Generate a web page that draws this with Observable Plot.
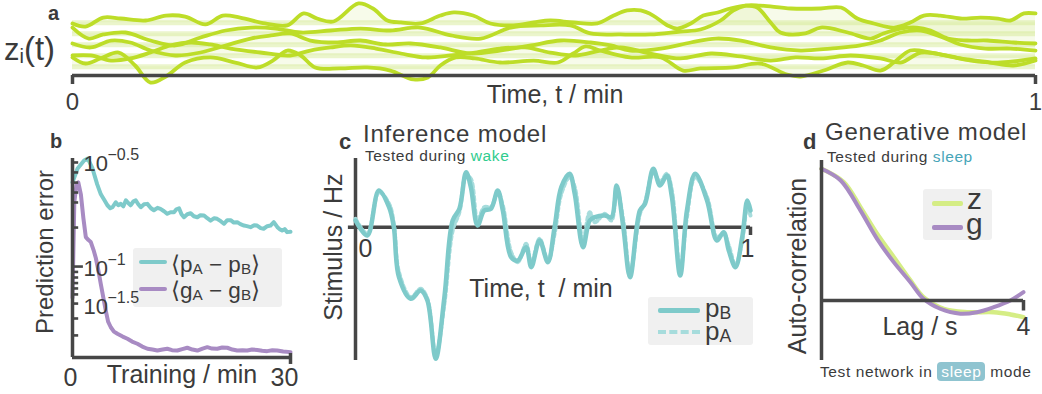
<!DOCTYPE html>
<html><head><meta charset="utf-8">
<script src="https://cdn.jsdelivr.net/npm/d3@7"></script>
<script src="https://cdn.jsdelivr.net/npm/@observablehq/plot@0.6"></script>
<style>
body{margin:0;background:#fff;}
#wrap{position:relative;width:1042px;height:394px;overflow:hidden;font-family:"Liberation Sans",Arial,sans-serif;color:#3b3b3b;}
.abs{position:absolute;white-space:pre;line-height:1;}
sub.s{font-size:0.68em;vertical-align:baseline;position:relative;top:0.12em;}
</style></head><body><div id="wrap"></div>
<script>
// ---------- Panel a : latent trajectories z_i(t) ----------
const aBands = [4.8, 3.8, 2.8, 1.8, 0.8];
const z1 = [[0,4.73],[0.0135,4.45],[0.032,5.27],[0.050,5.18],[0.076,5.0],[0.097,5.45],[0.117,5.36],[0.138,4.64],[0.156,5.45],[0.174,5.27],[0.200,4.73],[0.223,4.55],[0.240,5.64],[0.254,5.18],[0.271,4.91],[0.297,6.55],[0.312,6.09],[0.327,5.0],[0.341,4.82],[0.361,4.73],[0.382,5.45],[0.396,5.73],[0.416,5.45],[0.434,4.73],[0.458,4.55],[0.479,4.82],[0.496,5.0],[0.520,4.82],[0.545,4.73],[0.562,5.45],[0.576,5.91],[0.590,5.91],[0.603,5.45],[0.618,4.55],[0.628,4.27],[0.642,4.73],[0.655,5.45],[0.670,5.73],[0.683,6.09],[0.699,6.36],[0.711,6.18],[0.725,4.82],[0.735,3.91],[0.761,3.82],[0.777,4.36],[0.805,3.91],[0.829,3.36],[0.842,3.82],[0.860,4.27],[0.877,4.36],[0.891,4.09],[0.909,3.36],[0.929,3.18],[0.950,3.18],[0.977,3.0],[1,2.91]];
const z2 = [[0,4.36],[0.017,3.36],[0.032,3.73],[0.055,3.91],[0.081,3.18],[0.107,2.73],[0.133,3.45],[0.159,4.09],[0.185,4.36],[0.211,4.27],[0.237,3.91],[0.268,4.09],[0.299,4.27],[0.330,4.09],[0.361,4.36],[0.393,3.64],[0.424,3.36],[0.455,4.36],[0.486,4.55],[0.517,4.55],[0.538,3.82],[0.569,3.73],[0.600,3.73],[0.631,4.0],[0.652,4.18],[0.673,5.0],[0.686,5.91],[0.699,6.36],[0.714,6.36],[0.746,6.09],[0.777,6.09],[0.798,6.18],[0.815,5.18],[0.832,4.73],[0.853,4.36],[0.870,4.82],[0.884,5.45],[0.901,5.45],[0.922,5.18],[0.943,5.27],[0.961,5.18],[0.974,5.0],[0.988,5.64],[1,5.64]];
const z3 = [[0,2.91],[0.019,2.55],[0.040,3.18],[0.060,3.0],[0.081,2.27],[0.107,1.82],[0.133,2.09],[0.159,2.73],[0.185,3.36],[0.206,3.64],[0.226,3.82],[0.247,3.18],[0.273,3.0],[0.299,3.18],[0.325,2.82],[0.351,2.91],[0.382,2.55],[0.413,2.0],[0.444,2.27],[0.476,2.73],[0.507,3.18],[0.538,3.0],[0.559,2.73],[0.579,2.27],[0.611,2.45],[0.642,3.0],[0.668,3.36],[0.694,3.18],[0.725,2.55],[0.756,2.27],[0.787,2.45],[0.818,2.73],[0.839,3.18],[0.860,3.91],[0.881,4.09],[0.901,3.55],[0.922,2.82],[0.948,2.45],[0.974,2.45],[1,2.27]];
const z4 = [[0,1.82],[0.019,1.82],[0.040,1.36],[0.060,1.55],[0.081,2.09],[0.102,2.73],[0.123,3.0],[0.143,2.82],[0.164,2.45],[0.195,2.09],[0.226,1.82],[0.247,2.27],[0.268,2.55],[0.289,2.73],[0.315,2.45],[0.341,2.0],[0.367,1.64],[0.393,1.82],[0.418,2.09],[0.444,2.45],[0.470,2.55],[0.496,2.09],[0.522,1.82],[0.548,2.27],[0.569,2.55],[0.600,2.0],[0.631,1.55],[0.663,2.0],[0.694,1.73],[0.725,1.36],[0.751,1.64],[0.777,1.55],[0.808,1.82],[0.839,1.55],[0.860,1.18],[0.881,2.09],[0.907,1.82],[0.933,1.36],[0.964,1.18],[1,1.55]];
const z5 = [[0,1.64],[0.0135,1.09],[0.029,1.55],[0.048,2.09],[0.065,0.91],[0.081,-0.64],[0.097,-0.09],[0.117,1.18],[0.143,1.64],[0.169,1.18],[0.192,0.73],[0.208,1.36],[0.223,2.27],[0.237,1.82],[0.252,0.73],[0.278,0.64],[0.306,0.73],[0.330,0.45],[0.354,-0.36],[0.369,-0.18],[0.382,0.91],[0.398,1.64],[0.418,1.55],[0.444,1.18],[0.479,1.36],[0.504,1.18],[0.520,2.0],[0.533,2.64],[0.548,2.27],[0.579,1.64],[0.611,1.64],[0.634,0.45],[0.652,0.64],[0.686,0.73],[0.714,1.09],[0.742,0.09],[0.756,-0.09],[0.780,0.45],[0.805,1.18],[0.821,0.91],[0.839,0.45],[0.853,1.18],[0.870,2.27],[0.891,2.09],[0.922,1.55],[0.953,1.18],[0.977,0.91],[1,1.36]];
const aLines = [z1, z2, z3, z4, z5];
const aTicks = [0, 1];

// ---------- Panel b : prediction error during training ----------
const bTeal = [[0,0.88],[0.7,0.95],[1.6,0.99],[2.1,1.0],[2.75,0.95],[3.4,0.87],[3.9,0.82],[4.4,0.79],[4.8,0.765],[5.2,0.75],[5.5,0.755],[5.95,0.78],[6.3,0.765],[6.65,0.772],[7.0,0.76],[7.35,0.79],[7.7,0.775],[8.0,0.765],[8.4,0.785],[8.7,0.79],[9.05,0.77],[9.4,0.755],[9.85,0.77],[10.3,0.772],[10.8,0.75],[11.2,0.74],[11.7,0.752],[12.1,0.747],[12.6,0.735],[13.05,0.722],[13.5,0.73],[13.97,0.73],[14.3,0.745],[14.66,0.75],[15.0,0.72],[15.34,0.705],[15.8,0.72],[16.26,0.725],[16.7,0.71],[17.18,0.705],[17.6,0.715],[18.1,0.714],[18.55,0.7],[19.0,0.688],[19.5,0.7],[19.9,0.697],[20.4,0.685],[20.84,0.672],[21.3,0.69],[21.76,0.69],[22.2,0.678],[22.67,0.68],[23.1,0.67],[23.6,0.663],[24.0,0.66],[24.5,0.655],[25.0,0.665],[25.4,0.663],[25.9,0.65],[26.3,0.647],[26.8,0.66],[27.25,0.663],[27.7,0.68],[28.2,0.655],[28.5,0.645],[28.85,0.638],[29.2,0.645],[29.54,0.63],[30,0.632]];
const bPurple = [[0,0.3],[0.25,0.78],[0.55,0.87],[0.8,0.88],[1.15,0.82],[1.5,0.7],[1.83,0.605],[2.2,0.59],[2.52,0.58],[2.9,0.54],[3.21,0.5],[3.6,0.43],[3.89,0.37],[4.25,0.3],[4.58,0.236],[4.9,0.18],[5.27,0.152],[5.7,0.13],[6.18,0.119],[6.9,0.105],[7.56,0.094],[8.2,0.08],[8.93,0.069],[9.6,0.055],[10.31,0.044],[11.0,0.04],[11.68,0.035],[12.4,0.04],[13.05,0.044],[13.7,0.037],[14.43,0.035],[15.1,0.042],[15.8,0.049],[16.5,0.04],[17.18,0.035],[17.9,0.045],[18.55,0.052],[19.2,0.045],[19.92,0.044],[20.6,0.05],[21.3,0.049],[22.0,0.04],[22.67,0.035],[23.4,0.036],[24.05,0.035],[24.7,0.04],[25.42,0.038],[26.1,0.034],[26.79,0.032],[27.5,0.036],[28.17,0.035],[29.0,0.03],[30,0.027]];
const bMinorTicks = [0.98, 0.93, 0.879, 0.829, 0.779, 0.653, 0.43, 0.402, 0.374, 0.347, 0.317, 0.271, 0.196, 0.111];
const bMajorTicks = [0.457];
const bLabelPos = [0.972, 0.447, 0.256];
const bLabelExp = ["\u22120.5", "\u22121", "\u22121.5"];
const bXTicks = [0, 30];

// ---------- Panel c : inference model ----------
const cT = [0,0.030,0.059,0.085,0.097,0.110,0.140,0.165,0.182,0.203,0.225,0.246,0.263,0.280,0.292,0.309,0.326,0.343,0.360,0.373,0.394,0.411,0.432,0.445,0.466,0.487,0.504,0.521,0.542,0.555,0.576,0.593,0.606,0.631,0.648,0.661,0.678,0.695,0.720,0.733,0.754,0.771,0.788,0.801,0.822,0.839,0.860,0.890,0.915,0.932,0.945,0.962,0.979,0.992,1.0];
const pB = [0.20,-0.25,1.10,0.60,0.0,-1.50,-2.15,-1.90,-2.20,-3.95,-2.10,0.20,0.55,1.65,1.20,0.05,0.50,0.55,1.10,0.50,-0.90,-1.00,-0.60,-1.20,-0.40,-1.05,0.0,1.20,1.60,1.00,-0.60,0.20,0.30,0.35,0.30,1.25,0.0,-1.50,0.50,0.70,1.75,1.25,1.55,0.90,-1.45,0.50,1.60,0.80,-0.40,-0.15,-0.70,-1.20,-0.30,0.80,0.50];
const pA = [0.25,-0.20,1.05,0.70,0.10,-1.35,-2.10,-1.85,-2.15,-3.85,-2.30,-0.10,0.45,1.55,1.45,0.20,0.60,0.60,1.05,0.65,-0.75,-1.05,-0.50,-1.10,-0.35,-1.00,-0.20,1.00,1.50,1.20,-0.40,0.45,0.15,0.40,0.20,1.15,0.20,-1.40,0.40,0.75,1.65,1.35,1.60,1.10,-1.30,0.30,1.50,0.90,-0.30,-0.20,-0.55,-1.15,-0.40,0.60,0.35];
const cTicks = [0, 1];

// ---------- Panel d : generative model auto-correlation ----------
const dLagZ = [0,0.44,0.77,1.10,1.43,1.76,2.02,2.42,2.88,3.41,3.74,4.0];
const dZ = [1.0,0.899,0.709,0.506,0.329,0.152,0.025,-0.063,-0.089,-0.089,-0.106,-0.127];
const dLagG = [0,0.38,0.77,1.10,1.43,1.76,2.02,2.35,2.75,3.08,3.41,3.74,4.0];
const dG = [1.0,0.911,0.684,0.468,0.291,0.139,0.013,-0.063,-0.101,-0.089,-0.051,0.0,0.063];
const dTicks = [4];

// ---------- styling ----------
const AX = "#464646", TXT = "#3b3b3b";
const GREEN = "#bddd28", BAND = "#ebf5cc", TEAL = "#7ecaca", TEAL2 = "#a6dcdc", PURPLE = "#a88bc3", ZCOL = "#d5ed85";
const FONT = "Liberation Sans, Arial, sans-serif";
const baseStyle = {fontFamily: FONT, background: "transparent", overflow: "visible", color: TXT};
const W = document.getElementById("wrap");
function place(el, left, top) { el.style.position = "absolute"; el.style.left = left + "px"; el.style.top = top + "px"; el.style.maxWidth = "none"; W.appendChild(el); }
function label(html, css) { const d = document.createElement("div"); d.className = "abs"; d.innerHTML = html; Object.assign(d.style, css); W.appendChild(d); return d; }

// legend backgrounds go underneath the charts
label("", {left: "133px", top: "248px", width: "149px", height: "59px", background: "#f0f0f0", borderRadius: "3px"});
label("", {left: "648px", top: "297px", width: "105px", height: "48px", background: "#f0f0f0", borderRadius: "3px"});
label("", {left: "923px", top: "189px", width: "69px", height: "51px", background: "#f0f0f0", borderRadius: "3px"});

// Panel a
const aPlot = Plot.plot({
  width: 1042, height: 110, marginLeft: 72, marginRight: 7, marginTop: 0, marginBottom: 35,
  style: baseStyle,
  x: {domain: [0, 1]}, y: {domain: [0, 75 / 11], axis: null},
  marks: [
    Plot.ruleY(aBands, {stroke: BAND, strokeWidth: 5}),
    ...aLines.map((L, i) => Plot.areaY(L, {x: d => d[0], y1: aBands[i], y2: d => d[1], fill: "#d3ea8c", fillOpacity: 0.18, curve: "catmull-rom"})),
    ...aLines.map(L => Plot.line(L, {x: d => d[0], y: d => d[1], stroke: GREEN, strokeWidth: 3.8, curve: "catmull-rom"})),
    Plot.ruleY([0], {stroke: AX, strokeWidth: 3.5}),
    Plot.axisX({ticks: aTicks, tickSize: 9, tickPadding: 8, stroke: AX, strokeWidth: 3.5, fontSize: 24, tickFormat: d => String(d), label: null})
  ]
});
place(aPlot, 0, 0);

// Panel b
const bPlot = Plot.plot({
  width: 300, height: 284, marginLeft: 72, marginRight: 10, marginTop: 48, marginBottom: 37,
  style: baseStyle,
  x: {domain: [0, 30], axis: null}, y: {domain: [0, 1], axis: null},
  marks: [
    Plot.line(bTeal, {x: d => d[0], y: d => d[1], stroke: TEAL, strokeWidth: 4}),
    Plot.line(bPurple, {x: d => d[0], y: d => d[1], stroke: PURPLE, strokeWidth: 4}),
    Plot.ruleX([0], {stroke: AX, strokeWidth: 3.5}),
    Plot.ruleY([0], {stroke: AX, strokeWidth: 3.5}),
    Plot.ruleY(bMinorTicks, {x1: 0, x2: 0.85, stroke: AX, strokeWidth: 2.6}),
    Plot.ruleY(bMajorTicks, {x1: 0, x2: 1.5, stroke: AX, strokeWidth: 2.6}),
    Plot.ruleX([30], {y1: 0.02, y2: -0.035, stroke: AX, strokeWidth: 3.5}),
    Plot.text(bLabelPos, {x: 0, y: d => d, text: () => "10", textAnchor: "start", dx: 11, fontSize: 22, fill: TXT}),
    Plot.text(bLabelPos.map((v, i) => ({v, e: bLabelExp[i]})), {x: 0, y: "v", text: "e", textAnchor: "start", dx: 35, dy: -9, fontSize: 16, fill: TXT}),
    Plot.text([bXTicks[0]], {x: d => d, y: 0, text: d => String(d), dx: -2, dy: 11, lineAnchor: "top", fontSize: 25, fill: TXT}),
    Plot.text([bXTicks[1]], {x: d => d, y: 0, text: d => String(d), dx: -6, dy: 11, lineAnchor: "top", fontSize: 25, fill: TXT})
  ]
});
place(bPlot, 0, 110);

// Panel c
const cPlot = Plot.plot({
  width: 460, height: 284, marginLeft: 45, marginRight: 20, marginTop: 48, marginBottom: 34,
  style: baseStyle,
  x: {domain: [0, 1], axis: null}, y: {domain: [-4.0, 2.06], axis: null},
  marks: [
    Plot.ruleX([0], {stroke: AX, strokeWidth: 3.5}),
    Plot.ruleY([0], {x1: -0.018, x2: 1, stroke: AX, strokeWidth: 3.5}),
    Plot.ruleX([1], {y1: 0, y2: -0.25, stroke: AX, strokeWidth: 3.5}),
    Plot.line(cT, {x: d => d, y: (d, i) => pA[i], stroke: TEAL2, strokeWidth: 4, strokeDasharray: "3.5,3", curve: "catmull-rom"}),
    Plot.line(cT, {x: d => d, y: (d, i) => pB[i], stroke: TEAL, strokeWidth: 4.5, curve: "catmull-rom"}),
    Plot.text([cTicks[0]], {x: d => d, y: 0, text: d => String(d), dx: 10, dy: 12, lineAnchor: "top", fontSize: 25, fill: TXT}),
    Plot.text([cTicks[1]], {x: d => d, y: 0, text: d => String(d), dx: -3, dy: 12, lineAnchor: "top", fontSize: 25, fill: TXT})
  ]
});
place(cPlot, 310, 110);

// Panel d
const dPlot = Plot.plot({
  width: 282, height: 284, marginLeft: 61, marginRight: 19, marginTop: 50, marginBottom: 34,
  style: baseStyle,
  x: {domain: [0, 4], axis: null}, y: {domain: [-0.456, 1.063], axis: null},
  marks: [
    Plot.line(dLagZ, {x: d => d, y: (d, i) => dZ[i], stroke: ZCOL, strokeWidth: 4.5, curve: "catmull-rom"}),
    Plot.line(dLagG, {x: d => d, y: (d, i) => dG[i], stroke: PURPLE, strokeWidth: 4, curve: "catmull-rom"}),
    Plot.ruleX([0], {stroke: AX, strokeWidth: 3.5}),
    Plot.ruleY([0], {stroke: AX, strokeWidth: 3.5}),
    Plot.ruleX(dTicks, {y1: 0, y2: -0.08, stroke: AX, strokeWidth: 3.5}),
    Plot.text(dTicks, {x: d => d, y: 0, text: d => String(d), dy: 17, lineAnchor: "top", fontSize: 25, fill: TXT})
  ]
});
place(dPlot, 760, 110);

// ---------- HTML texts ----------
// panel a
label("a", {left: "48px", top: "3px", fontSize: "20px", fontWeight: "bold"});
label('<span style="font-size:31px">z</span><span style="font-size:20px;position:relative;top:3px">i</span><span style="font-size:33px">(t)</span>', {left: "4px", top: "32px"});
label("Time, t / min", {left: "555px", top: "82px", fontSize: "25px", transform: "translateX(-50%)"});
// panel b
label("b", {left: "50px", top: "131px", fontSize: "20px", fontWeight: "bold"});
label("Prediction error", {left: "45px", top: "252px", fontSize: "24px", transform: "translate(-50%,-50%) rotate(-90deg)"});
label("Training / min", {left: "182px", top: "362px", fontSize: "25px", transform: "translateX(-50%)"});
label("", {left: "139px", top: "260px", width: "28px", height: "4px", background: TEAL, borderRadius: "2px"});
label("", {left: "139px", top: "287px", width: "28px", height: "4px", background: PURPLE, borderRadius: "2px"});
label('\u27E8p<sub class="s">A</sub> \u2212 p<sub class="s">B</sub>\u27E9', {left: "171px", top: "255px", fontSize: "22.5px", lineHeight: "0.85"});
label('\u27E8g<sub class="s">A</sub> \u2212 g<sub class="s">B</sub>\u27E9', {left: "171px", top: "281px", fontSize: "22.5px", lineHeight: "0.85"});
// panel c
label("c", {left: "339px", top: "131px", fontSize: "22px", fontWeight: "bold"});
label("Inference model", {left: "363px", top: "126.3px", fontSize: "24px", letterSpacing: "0.8px", lineHeight: "0.7"});
label('Tested during <span style="color:#2fcc8e">wake</span>', {left: "365px", top: "151.4px", fontSize: "15.5px", letterSpacing: "0.6px", lineHeight: "0.7"});
label("Stimulus / Hz", {left: "333px", top: "247px", fontSize: "25px", transform: "translate(-50%,-50%) rotate(-90deg)"});
label("Time, t  / min", {left: "541px", top: "276px", fontSize: "25px", transform: "translateX(-50%)"});
label("", {left: "658px", top: "308px", width: "42px", height: "4.5px", background: TEAL, borderRadius: "2px"});
label("", {left: "658px", top: "330px", width: "42px", height: "0px", borderTop: "4px dashed " + TEAL2});
label('p<sub class="s">B</sub>', {left: "705px", top: "298.9px", fontSize: "26px", lineHeight: "0.7"});
label('p<sub class="s">A</sub>', {left: "705px", top: "321.9px", fontSize: "26px", lineHeight: "0.7"});
// panel d
label("d", {left: "803px", top: "131px", fontSize: "22px", fontWeight: "bold"});
label("Generative model", {left: "825px", top: "124px", fontSize: "24px", letterSpacing: "0.8px", lineHeight: "0.7"});
label('Tested during <span style="color:#47a5b8">sleep</span>', {left: "827px", top: "151.9px", fontSize: "15.5px", letterSpacing: "0.6px", lineHeight: "0.7"});
label("Auto-correlation", {left: "797px", top: "266px", fontSize: "25px", transform: "translate(-50%,-50%) rotate(-90deg)"});
label("Lag / s", {left: "920px", top: "314px", fontSize: "25px", transform: "translateX(-50%)"});
label("", {left: "932px", top: "201px", width: "31px", height: "4.5px", background: ZCOL, borderRadius: "2px"});
label("", {left: "932px", top: "225px", width: "31px", height: "4.5px", background: PURPLE, borderRadius: "2px"});
label("z", {left: "967px", top: "188px", fontSize: "30px", lineHeight: "0.7"});
label("g", {left: "966px", top: "213px", fontSize: "30px", lineHeight: "0.7"});
label('Test network in <span style="background:#8fc4d0;color:#fff;border-radius:4px;padding:1px 4px">sleep</span> mode', {left: "820px", top: "364px", fontSize: "15.5px", letterSpacing: "0.6px"});
</script></body></html>
